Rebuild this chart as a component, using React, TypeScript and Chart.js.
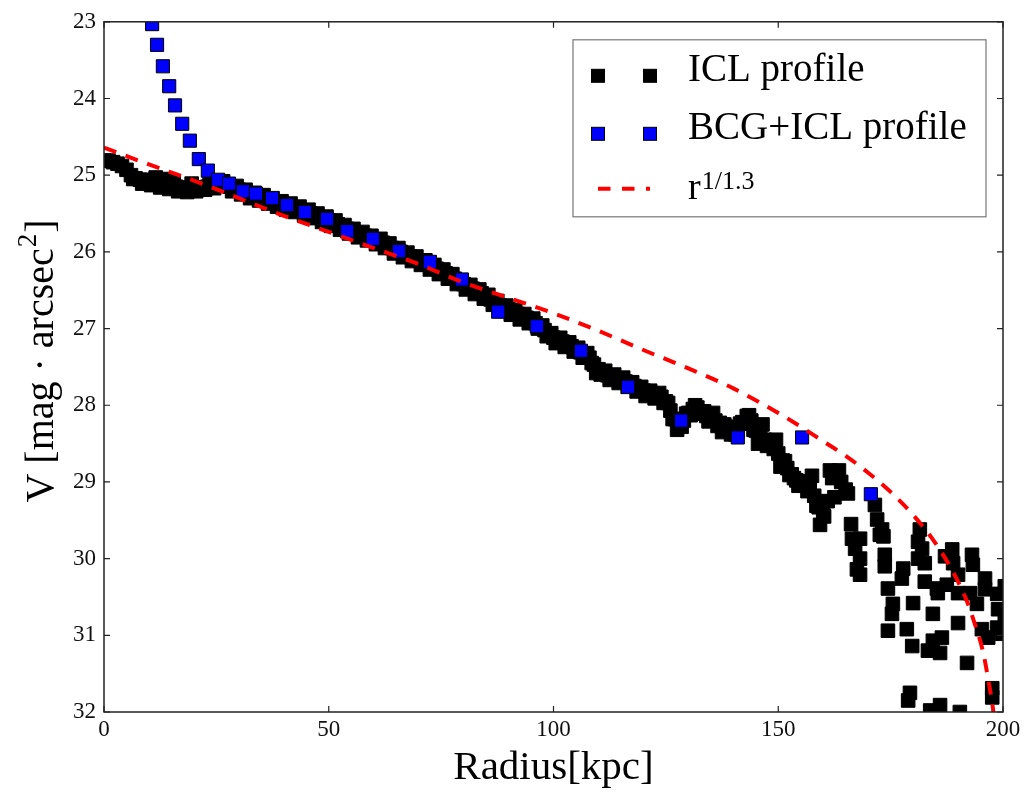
import { useEffect, useRef } from 'react';
import { Chart, registerables } from 'chart.js';

Chart.register(...registerables);

const FONT = "'Liberation Serif', 'DejaVu Serif', serif";

const xTicks = [0, 50, 100, 150, 200];
const yTicks = [23, 24, 25, 26, 27, 28, 29, 30, 31, 32];

// ICL profile: dense inner band (radius in kpc, V in mag arcsec^-2)
const iclBandRadius = [
  0, 1, 2, 3, 4, 5, 6, 7, 8, 9,
  10, 11, 12, 13, 14, 15, 16, 17, 18, 19,
  20, 21, 22, 23, 24, 25, 26, 27, 28, 29,
  30, 31, 32, 33, 34, 35, 36, 37, 38, 39,
  40, 41, 42, 43, 44, 45, 46, 47, 48, 49,
  50, 51, 52, 53, 54, 55, 56, 57, 58, 59,
  60, 61, 62, 63, 64, 65, 66, 67, 68, 69,
  70, 71, 72, 73, 74, 75, 76, 77, 78, 79,
  80, 81, 82, 83, 84, 85, 86, 87, 88, 89,
  90, 91, 92, 93, 94, 95, 96, 97, 98, 99,
  100, 101, 102, 103, 104, 105, 106, 107, 108, 109,
  110, 111, 112, 113, 114, 115, 116, 117, 118, 119,
  120, 121, 122, 123, 124, 125, 126, 127, 128, 129,
  130, 131, 132, 133, 134, 135, 136, 137, 138, 139,
  140, 141, 142, 143, 144, 145, 146, 147, 148, 149,
  150, 151, 152, 153, 154, 155, 156, 157, 158, 159,
  160, 161, 162, 163, 164, 165,
];
const iclBandV = [
  24.81, 24.81, 24.83, 24.85, 24.88, 24.93, 25.0, 25.04, 25.06, 25.06,
  25.07, 25.08, 25.1, 25.11, 25.12, 25.13, 25.15, 25.16, 25.17, 25.17,
  25.17, 25.16, 25.16, 25.15, 25.14, 25.13, 25.12, 25.13, 25.15, 25.17,
  25.19, 25.21, 25.24, 25.26, 25.28, 25.29, 25.31, 25.33, 25.35, 25.37,
  25.39, 25.4, 25.42, 25.44, 25.46, 25.48, 25.5, 25.52, 25.55, 25.57,
  25.59, 25.62, 25.64, 25.67, 25.7, 25.72, 25.75, 25.77, 25.79, 25.81,
  25.84, 25.86, 25.88, 25.91, 25.95, 25.98, 26.0, 26.03, 26.06, 26.08,
  26.11, 26.13, 26.16, 26.19, 26.22, 26.25, 26.28, 26.31, 26.35, 26.39,
  26.42, 26.45, 26.48, 26.51, 26.54, 26.58, 26.62, 26.66, 26.7, 26.73,
  26.75, 26.78, 26.81, 26.84, 26.86, 26.89, 26.93, 26.97, 27.02, 27.07,
  27.12, 27.15, 27.17, 27.2, 27.23, 27.27, 27.31, 27.34, 27.38, 27.47,
  27.53, 27.57, 27.61, 27.63, 27.65, 27.67, 27.69, 27.72, 27.75, 27.79,
  27.81, 27.84, 27.85, 27.87, 27.89, 27.95, 28.07, 28.18, 28.26, 28.2,
  28.1, 28.05, 28.03, 28.09, 28.14, 28.18, 28.2, 28.23, 28.25, 28.28,
  28.32, 28.33, 28.22, 28.14, 28.2, 28.33, 28.39, 28.45, 28.51, 28.57,
  28.63, 28.72, 28.82, 28.9, 28.98, 29.02, 29.05, 29.08, 29.18, 29.33,
  29.4, 29.25, 28.95, 28.92, 29.0, 29.1,
];

// ICL profile: second track of the band (its upper and lower edge)
const iclEdgeRadius = [
  28.5, 29.5, 30.5, 31.5, 32.5, 33.5, 34.5, 35.5, 36.5, 37.5,
  38.5, 39.5, 40.5, 41.5, 42.5, 43.5, 44.5, 45.5, 46.5, 47.5,
  48.5, 49.5, 50.5, 51.5, 52.5, 53.5, 54.5, 55.5, 56.5, 57.5,
  58.5, 59.5, 60.5, 61.5, 62.5, 63.5, 64.5, 65.5, 66.5, 67.5,
  68.5, 69.5, 70.5, 71.5, 72.5, 73.5, 74.5, 75.5, 76.5, 77.5,
  78.5, 79.5, 80.5, 81.5, 82.5, 83.5, 84.5, 85.5, 86.5, 87.5,
  88.5, 89.5, 90.5, 91.5, 92.5, 93.5, 94.5, 95.5, 96.5, 97.5,
  98.5, 99.5, 100.5, 101.5, 102.5, 103.5, 104.5, 105.5, 106.5, 107.5,
  110.5, 111.5, 112.5, 113.5, 114.5, 115.5, 116.5, 117.5, 118.5, 119.5,
  120.5, 121.5, 122.5, 123.5, 124.5, 125.5, 126.5, 127.5, 128.5, 129.5,
  130.5, 131.5, 132.5, 133.5, 134.5, 136.5, 138.5, 140.5, 141.5, 142.5,
  143.5, 144.5, 147.5, 148.5, 151.5, 152.5, 154.5, 155.5, 156.5, 158.5,
];
const iclEdgeV = [
  25.21, 25.14, 25.25, 25.19, 25.3, 25.23, 25.33, 25.26, 25.37, 25.3,
  25.41, 25.34, 25.45, 25.37, 25.48, 25.41, 25.52, 25.45, 25.56, 25.5,
  25.61, 25.54, 25.66, 25.59, 25.71, 25.65, 25.76, 25.7, 25.81, 25.74,
  25.85, 25.79, 25.9, 25.83, 25.95, 25.89, 26.02, 25.95, 26.07, 26.01,
  26.12, 26.06, 26.17, 26.11, 26.23, 26.17, 26.29, 26.23, 26.35, 26.29,
  26.42, 26.37, 26.49, 26.43, 26.55, 26.49, 26.61, 26.56, 26.69, 26.64,
  26.77, 26.7, 26.82, 26.76, 26.88, 26.81, 26.93, 26.87, 27.0, 26.96,
  27.1, 27.06, 27.19, 27.12, 27.24, 27.18, 27.3, 27.25, 27.38, 27.32,
  27.6, 27.55, 27.67, 27.6, 27.71, 27.64, 27.76, 27.7, 27.82, 27.76,
  27.88, 27.81, 27.91, 27.84, 27.97, 27.97, 28.18, 28.32, 28.28, 28.11,
  28.13, 28.0, 28.11, 28.08, 28.21, 28.27, 28.32, 28.38, 28.24, 28.23,
  28.13, 28.32, 28.53, 28.5, 28.73, 28.91, 29.05, 28.99, 29.12, 29.31,
];

// ICL profile: extra points where the band is thicker
const iclExtraRadius = [
  6.5, 8.5, 10.5, 12.5, 14.5, 16.5, 18.5, 20.5, 22.5, 24.5,
  11.5, 13.5, 15.5, 19.5, 23.5, 26.5,
  108.5, 109.5, 135.5, 137.5, 139.5, 145.5, 146.5, 149.5, 150.5, 153.5,
  157.5, 159.3, 160.2, 161.5, 162.5, 163.5, 165.5,
];
const iclExtraV = [
  25.05, 25.11, 25.13, 25.16, 25.18, 25.21, 25.22, 25.21, 25.19, 25.17,
  25.03, 25.05, 25.08, 25.11, 25.09, 25.08,
  27.45, 27.58, 28.1, 28.35, 28.38, 28.5, 28.25, 28.45, 28.8, 28.95,
  28.92, 29.56, 29.45, 28.85, 29.2, 28.85, 29.15,
];

// ICL profile: scattered outer points
const iclOuterRadius = [
  166.2, 166.4, 168.2, 167.1, 168.2, 167.5, 168.2,
  171.5, 172.0, 172.6, 173.1, 173.4, 173.7, 173.7,
  174.4, 175.5, 175.3, 174.4, 177.8, 177.5, 178.6, 179.8, 180.0,
  181.5, 181.1, 182.0, 181.1, 182.6, 182.6,
  183.3, 184.4, 186.0, 184.4, 185.3, 185.5, 186.4,
  187.1, 188.7, 188.9, 187.5, 190.0, 190.0, 190.0, 192.0,
  193.1, 193.3, 192.7, 194.2, 196.0, 196.0, 195.3, 196.7,
  198.7, 198.9, 198.7, 199.8, 197.6, 197.6,
  179.3, 178.9, 186.0, 183.8, 190.4, 200.4, 200.4,
];
const iclOuterV = [
  29.55, 29.74, 29.74, 29.87, 30.0, 30.14, 30.21,
  29.3, 29.49, 29.69, 29.62, 29.71, 29.95, 30.1,
  30.39, 30.59, 30.72, 30.94, 30.13, 30.26, 30.92, 31.14, 30.58,
  29.62, 29.78, 29.87, 30.0, 30.06, 30.3,
  31.2, 31.07, 31.23, 30.72, 30.39, 30.45, 31.03,
  29.97, 29.88, 30.06, 30.34, 30.21, 30.45, 30.84, 31.36,
  29.95, 30.08, 30.45, 30.59, 30.26, 30.4, 30.92, 31.03,
  30.46, 30.66, 30.9, 30.98, 31.69, 31.81,
  31.75, 31.85, 31.91, 31.98, 32.0, 30.36, 30.81,
];

// BCG+ICL profile
const bcgRadius = [
  10.7, 11.8, 13.1, 14.5, 15.8, 17.4, 19.1, 21.1, 23.1, 25.4,
  27.8, 30.9, 33.8, 37.4, 40.7, 44.7, 49.6, 54.1, 59.8, 65.6,
  72.5, 79.6, 87.7, 96.3, 106.1, 116.6, 128.4, 141.0, 155.3, 170.6,
];
const bcgV = [
  23.03, 23.3, 23.58, 23.84, 24.09, 24.33, 24.55, 24.79, 24.94, 25.06,
  25.11, 25.21, 25.24, 25.3, 25.39, 25.48, 25.57, 25.73, 25.83, 25.99,
  26.13, 26.36, 26.78, 26.97, 27.29, 27.76, 28.2, 28.42, 28.42, 29.16,
];

// r^(1/1.3) fit curve
const fitRadius = [
  0, 10, 20, 30, 40, 50, 60, 70, 80, 90, 100, 110, 120, 130, 140, 150,
  155, 160, 165, 170, 175, 180, 185, 188, 190, 192, 194, 195.5, 196.5, 197.5, 198,
];
const fitV = [
  24.64, 24.86, 25.07, 25.3, 25.53, 25.74, 25.95, 26.16, 26.4, 26.6, 26.8, 27.03, 27.28, 27.52, 27.78, 28.1,
  28.28, 28.47, 28.66, 28.88, 29.13, 29.43, 29.8, 30.08, 30.3, 30.56, 30.9, 31.2, 31.5, 31.85, 32.05,
];

const legendLabels = ['ICL profile', 'BCG+ICL profile', 'r', '1/1.3'];

const toPoints = (xs: number[], ys: number[]) => xs.map((x, i) => ({ x, y: ys[i] }));

const decorPlugin = {
  id: 'decor',
  afterDatasetsDraw(chart: any) {
    const { ctx, chartArea: a, scales } = chart;
    const xs = scales.x;
    const ys = scales.y;
    ctx.save();
    ctx.strokeStyle = '#222';
    ctx.lineWidth = 1.5;
    ctx.strokeRect(a.left, a.top, a.right - a.left, a.bottom - a.top);
    ctx.lineWidth = 1.2;
    ctx.beginPath();
    const tl = 6;
    xTicks.forEach((v) => {
      const px = xs.getPixelForValue(v);
      ctx.moveTo(px, a.bottom);
      ctx.lineTo(px, a.bottom - tl);
      ctx.moveTo(px, a.top);
      ctx.lineTo(px, a.top + tl);
    });
    yTicks.forEach((v) => {
      const py = ys.getPixelForValue(v);
      ctx.moveTo(a.left, py);
      ctx.lineTo(a.left + tl, py);
      ctx.moveTo(a.right, py);
      ctx.lineTo(a.right - tl, py);
    });
    ctx.stroke();
    ctx.restore();
  },
  afterDraw(chart: any) {
    const { ctx, chartArea: a } = chart;
    ctx.save();
    ctx.fillStyle = '#000';
    // x title
    ctx.font = `41px ${FONT}`;
    ctx.textAlign = 'center';
    ctx.textBaseline = 'alphabetic';
    ctx.fillText('Radius[kpc]', (a.left + a.right) / 2, 779);
    // y title (rotated)
    ctx.save();
    ctx.translate(53, 361);
    ctx.rotate(-Math.PI / 2);
    const mainTxt = 'V [mag · arcsec';
    ctx.font = `40px ${FONT}`;
    const w1 = ctx.measureText(mainTxt).width;
    const w3 = ctx.measureText(']').width;
    ctx.font = `27px ${FONT}`;
    const w2 = ctx.measureText('2').width;
    const total = w1 + w2 + w3 + 2;
    const x0 = -total / 2;
    ctx.textAlign = 'left';
    ctx.font = `40px ${FONT}`;
    ctx.fillText(mainTxt, x0, 0);
    ctx.font = `27px ${FONT}`;
    ctx.fillText('2', x0 + w1 + 1, -17);
    ctx.font = `40px ${FONT}`;
    ctx.fillText(']', x0 + w1 + w2 + 2, 0);
    ctx.restore();

    // legend
    const bx = a.right - 430;
    const by = a.top + 18;
    const bw = 413;
    const bh = 177;
    ctx.fillStyle = '#fff';
    ctx.fillRect(bx, by, bw, bh);
    ctx.strokeStyle = '#777';
    ctx.lineWidth = 1.2;
    ctx.strokeRect(bx, by, bw, bh);
    const mx1 = bx + 25;
    const mx2 = bx + 77;
    const sq = 13;
    const drawSq = (cx: number, cy: number, fill: string) => {
      ctx.fillStyle = fill;
      ctx.fillRect(cx - sq / 2, cy - sq / 2, sq, sq);
      ctx.strokeStyle = '#000';
      ctx.lineWidth = 1;
      ctx.strokeRect(cx - sq / 2, cy - sq / 2, sq, sq);
    };
    drawSq(mx1, by + 36, '#000');
    drawSq(mx2, by + 36, '#000');
    drawSq(mx1, by + 94, '#0000ff');
    drawSq(mx2, by + 94, '#0000ff');
    ctx.strokeStyle = '#ff0000';
    ctx.lineWidth = 4;
    ctx.setLineDash([12.5, 11.5]);
    ctx.beginPath();
    ctx.moveTo(bx + 25, by + 149);
    ctx.lineTo(bx + 77, by + 149);
    ctx.stroke();
    ctx.setLineDash([]);
    ctx.fillStyle = '#000';
    ctx.textAlign = 'left';
    ctx.font = `39px ${FONT}`;
    const tx = bx + 115;
    ctx.fillText(legendLabels[0], tx, by + 41);
    ctx.fillText(legendLabels[1], tx, by + 99);
    ctx.font = `38px ${FONT}`;
    ctx.fillText(legendLabels[2], tx, by + 159);
    const rw = ctx.measureText(legendLabels[2]).width;
    ctx.font = `26px ${FONT}`;
    ctx.fillText(legendLabels[3], tx + rw + 1, by + 149);
    ctx.restore();
  },
};

export default function App() {
  const ref = useRef<HTMLCanvasElement>(null);
  useEffect(() => {
    document.body.style.margin = '0';
    document.body.style.overflow = 'hidden';
    const canvas = ref.current;
    if (!canvas) return;
    const chart = new Chart(canvas, {
      type: 'scatter',
      data: {
        datasets: [
          {
            label: 'r^(1/1.3)',
            type: 'line',
            data: toPoints(fitRadius, fitV),
            borderColor: '#ff0000',
            borderWidth: 4,
            borderDash: [13, 10],
            pointRadius: 0,
            fill: false,
            cubicInterpolationMode: 'monotone',
            clip: 0,
            order: 0,
          } as any,
          {
            label: 'BCG+ICL profile',
            data: toPoints(bcgRadius, bcgV),
            pointStyle: 'rect',
            pointRadius: 9.3,
            backgroundColor: '#0000ff',
            borderColor: '#000',
            borderWidth: 1,
            clip: 0,
            order: 1,
          } as any,
          {
            label: 'ICL profile',
            data: [
              ...toPoints(iclBandRadius, iclBandV),
              ...toPoints(iclEdgeRadius, iclEdgeV),
              ...toPoints(iclExtraRadius, iclExtraV),
              ...toPoints(iclOuterRadius, iclOuterV),
            ],
            pointStyle: 'rect',
            pointRadius: 9.6,
            backgroundColor: '#000',
            borderColor: '#000',
            borderWidth: 1,
            clip: 0,
            order: 2,
          } as any,
        ],
      },
      options: {
        animation: false,
        responsive: false,
        devicePixelRatio: 1,
        layout: { padding: { left: 0, right: 33, top: 16, bottom: 0 } },
        plugins: {
          legend: { display: false },
          tooltip: { enabled: false },
        },
        scales: {
          x: {
            type: 'linear',
            min: 0,
            max: 200,
            grid: { display: false, drawTicks: false },
            border: { display: false },
            ticks: {
              font: { family: FONT, size: 23 },
              color: '#111',
              padding: 4,
              maxRotation: 0,
            },
            afterBuildTicks: (s: any) => {
              s.ticks = xTicks.map((v) => ({ value: v }));
            },
            afterFit: (s: any) => {
              s.height = 80;
            },
          },
          y: {
            type: 'linear',
            min: 23,
            max: 32,
            reverse: true,
            grid: { display: false, drawTicks: false },
            border: { display: false },
            ticks: {
              font: { family: FONT, size: 23 },
              color: '#111',
              padding: 8,
            },
            afterBuildTicks: (s: any) => {
              s.ticks = yTicks.map((v) => ({ value: v }));
            },
            afterFit: (s: any) => {
              s.width = 104;
            },
          },
        },
      },
      plugins: [decorPlugin],
    });
    return () => chart.destroy();
  }, []);
  return (
    <div style={{ width: 1036, height: 792, background: '#fff' }}>
      <canvas ref={ref} width={1036} height={792} style={{ display: 'block' }} />
    </div>
  );
}
